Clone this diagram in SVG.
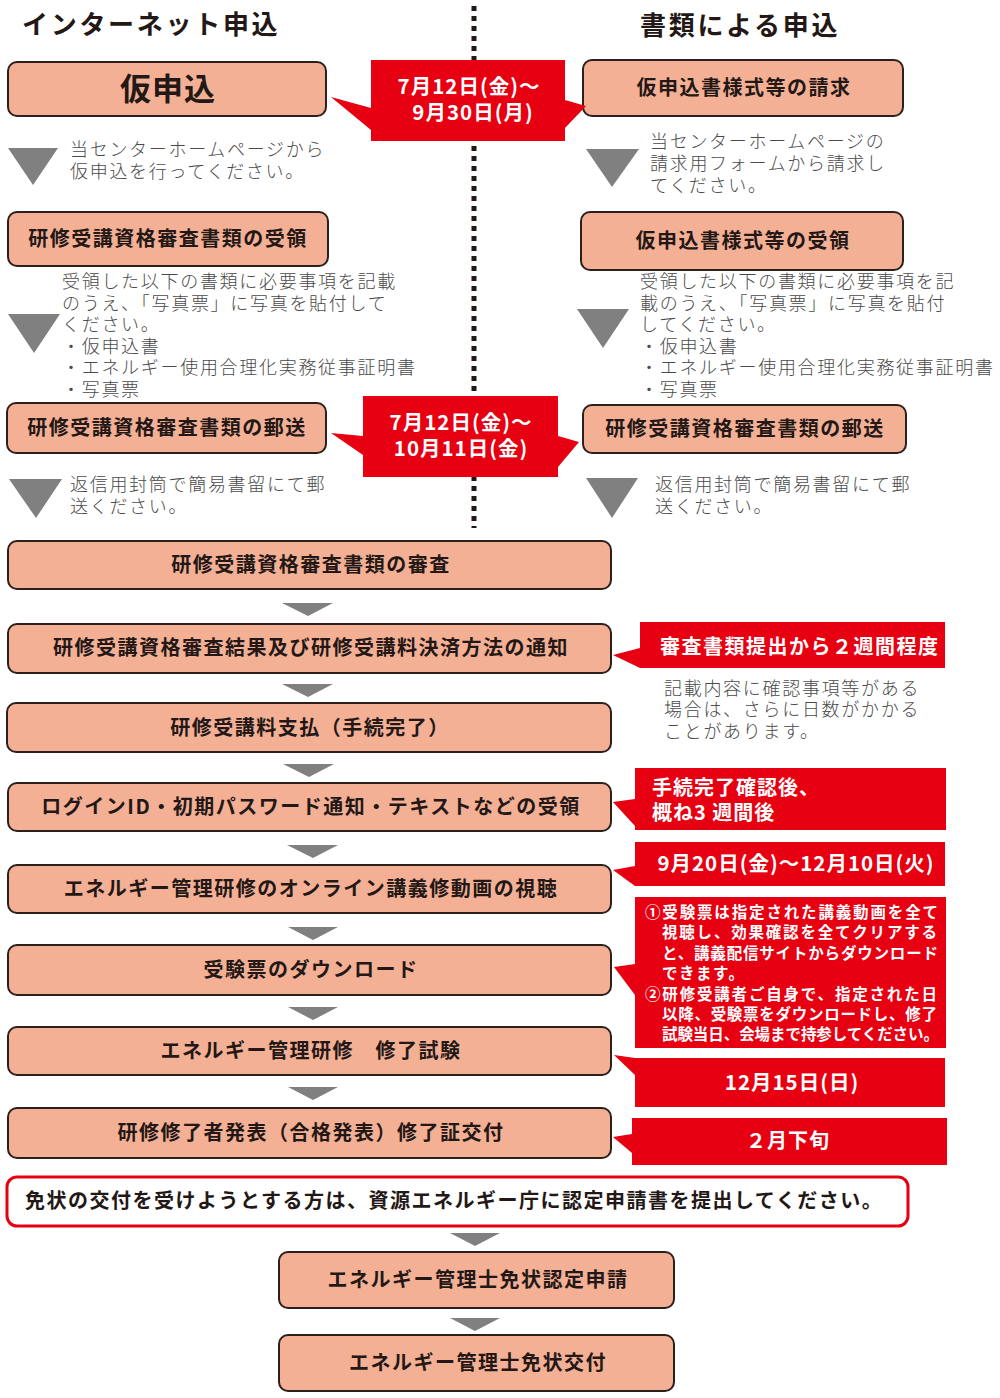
<svg xmlns="http://www.w3.org/2000/svg" width="1000" height="1398" viewBox="0 0 1000 1398">
<style>
.box{fill:#f4b095;stroke:#2b201c;stroke-width:2}
.wbox{fill:#ffffff;stroke:#e60012;stroke-width:3}
.red{fill:#e60012}
.tri{fill:#808080}
.bt{font-family:"Noto Sans CJK JP","Noto Sans CJK SC",sans-serif;font-weight:700;font-size:20px;fill:#231815;letter-spacing:1.5px;text-anchor:middle}
.title{font-family:"Noto Sans CJK JP","Noto Sans CJK SC",sans-serif;font-weight:700;font-size:26px;fill:#231815;letter-spacing:2.7px}
.body{font-family:"Noto Sans CJK JP","Noto Sans CJK SC",sans-serif;font-weight:300;font-size:18px;fill:#4a4a4a;letter-spacing:1.7px}
.rt{font-family:"Noto Sans CJK JP","Noto Sans CJK SC",sans-serif;font-weight:700;font-size:20px;fill:#ffffff}
.rd{font-family:"Noto Sans CJK JP","Noto Sans CJK SC",sans-serif;font-weight:700;font-size:20.5px;fill:#ffffff;letter-spacing:1px;text-anchor:middle}
.rs{font-family:"Noto Sans CJK JP","Noto Sans CJK SC",sans-serif;font-weight:700;font-size:15.5px;fill:#ffffff}
</style>

<g id="titles">
<text class="title" x="22" y="34">インターネット申込</text>
<text class="title" x="640" y="35">書類による申込</text>
</g>

<g id="connectors">
<line x1="474" y1="6" x2="474" y2="528" stroke="#231815" stroke-width="5" stroke-dasharray="5 5"/>
<polygon class="tri" points="8,148 58,148 33,185"/>
<polygon class="tri" points="586,149 639,149 612,187"/>
<polygon class="tri" points="8,314 60,314 34,353"/>
<polygon class="tri" points="577,309 629,309 603,348"/>
<polygon class="tri" points="9,479 62,479 36,518"/>
<polygon class="tri" points="586,478 638,478 612,518"/>
<polygon class="tri" points="282,603 333,603 308,616"/>
<polygon class="tri" points="282,684 333,684 308,697"/>
<polygon class="tri" points="283,764 334,764 309,777"/>
<polygon class="tri" points="287,845 338,845 313,858"/>
<polygon class="tri" points="288,927 338,927 313,940"/>
<polygon class="tri" points="288,1007 338,1007 313,1020"/>
<polygon class="tri" points="288,1087 338,1087 313,1100"/>
<polygon class="tri" points="450,1233 500,1233 475,1246"/>
<polygon class="tri" points="450,1318 500,1318 475,1331"/>
</g>

<g id="n-kari">
<rect class="box" x="8" y="62" width="318" height="54" rx="9"/>
<text class="bt" x="168" y="100" style="font-size:31px;letter-spacing:1px">仮申込</text>
</g>
<g id="n-seikyu">
<rect class="box" x="583" y="60" width="320" height="56" rx="9"/>
<text class="bt" x="744" y="95">仮申込書様式等の請求</text>
</g>
<g id="c1">
<path class="red" d="M371,60 H565 V100 L586,106 L565,128 V141 H371 V130 L331,97 L371,108 Z"/>
<text class="rd"><tspan x="469" y="94">7月12日(金)～</tspan><tspan x="473" y="120">9月30日(月)</tspan></text>
</g>

<g id="t1">
<text class="body"><tspan x="70" y="156">当センターホームページから</tspan><tspan x="70" y="178">仮申込を行ってください。</tspan></text>
</g>
<g id="t2">
<text class="body"><tspan x="650" y="148">当センターホームページの</tspan><tspan x="650" y="170">請求用フォームから請求し</tspan><tspan x="650" y="192">てください。</tspan></text>
</g>

<g id="n-juryo-l">
<rect class="box" x="8" y="212" width="320" height="54" rx="9"/>
<text class="bt" x="168" y="246">研修受講資格審査書類の受領</text>
</g>
<g id="n-juryo-r">
<rect class="box" x="581" y="212" width="322" height="58" rx="9"/>
<text class="bt" x="743" y="248">仮申込書様式等の受領</text>
</g>

<g id="t3">
<text class="body"><tspan x="62" y="288">受領した以下の書類に必要事項を記載</tspan><tspan x="62" y="310">のうえ、「写真票」に写真を貼付して</tspan><tspan x="62" y="331">ください。</tspan><tspan x="62" y="353">・仮申込書</tspan><tspan x="62" y="374">・エネルギー使用合理化実務従事証明書</tspan><tspan x="62" y="396">・写真票</tspan></text>
</g>
<g id="t4">
<text class="body"><tspan x="640" y="288">受領した以下の書類に必要事項を記</tspan><tspan x="640" y="310">載のうえ、「写真票」に写真を貼付</tspan><tspan x="640" y="331">してください。</tspan><tspan x="640" y="353">・仮申込書</tspan><tspan x="640" y="374">・エネルギー使用合理化実務従事証明書</tspan><tspan x="640" y="396">・写真票</tspan></text>
</g>

<g id="n-yuso-l">
<rect class="box" x="7" y="403" width="319" height="50" rx="9"/>
<text class="bt" x="167" y="435">研修受講資格審査書類の郵送</text>
</g>
<g id="n-yuso-r">
<rect class="box" x="583" y="405" width="323" height="48" rx="9"/>
<text class="bt" x="745" y="436">研修受講資格審査書類の郵送</text>
</g>
<g id="c2">
<path class="red" d="M363,396 H558 V436 L579,442 L558,467 V477 H363 V455 L331,433 L363,436 Z"/>
<text class="rd"><tspan x="461" y="430">7月12日(金)～</tspan><tspan x="461" y="456">10月11日(金)</tspan></text>
</g>

<g id="t5">
<text class="body"><tspan x="70" y="491">返信用封筒で簡易書留にて郵</tspan><tspan x="70" y="513">送ください。</tspan></text>
</g>
<g id="t6">
<text class="body"><tspan x="655" y="491">返信用封筒で簡易書留にて郵</tspan><tspan x="655" y="513">送ください。</tspan></text>
</g>

<g id="n-shinsa">
<rect class="box" x="8" y="541" width="603" height="48" rx="9"/>
<text class="bt" x="311" y="572">研修受講資格審査書類の審査</text>
</g>
<g id="n-tsuchi">
<rect class="box" x="8" y="624" width="603" height="49" rx="9"/>
<text class="bt" x="311" y="655">研修受講資格審査結果及び研修受講料決済方法の通知</text>
</g>
<g id="c3">
<path class="red" d="M640,622 H945 V668 H640 L613,655 L640,648 Z"/>
<text class="rt" x="660" y="654" style="letter-spacing:1.5px">審査書類提出から２週間程度</text>
</g>
<g id="t7">
<text class="body"><tspan x="664" y="695">記載内容に確認事項等がある</tspan><tspan x="664" y="716">場合は、さらに日数がかかる</tspan><tspan x="664" y="738">ことがあります。</tspan></text>
</g>

<g id="n-shiharai">
<rect class="box" x="7" y="703" width="604" height="49" rx="9"/>
<text class="bt" x="310" y="735">研修受講料支払（手続完了）</text>
</g>
<g id="n-login">
<rect class="box" x="8" y="783" width="603" height="48" rx="9"/>
<text class="bt" x="311" y="814">ログインID・初期パスワード通知・テキストなどの受領</text>
</g>
<g id="c4">
<path class="red" d="M635,768 H946 V830 H635 V826 L613,802 L635,799 Z"/>
<text class="rt" style="letter-spacing:1px"><tspan x="652" y="795">手続完了確認後、</tspan><tspan x="652" y="820">概ね3 週間後</tspan></text>
</g>

<g id="n-shicho">
<rect class="box" x="8" y="865" width="603" height="48" rx="9"/>
<text class="bt" x="311" y="896">エネルギー管理研修のオンライン講義修動画の視聴</text>
</g>
<g id="c5">
<path class="red" d="M635,842 H945 V886 H635 L613,870 L635,866 Z"/>
<text class="rd" x="796" y="871">9月20日(金)～12月10日(火)</text>
</g>

<g id="n-dl">
<rect class="box" x="8" y="945" width="603" height="50" rx="9"/>
<text class="bt" x="311" y="977">受験票のダウンロード</text>
</g>
<g id="c6">
<path class="red" d="M635,897 H946 V1048 H635 V995 L614,967 L635,964 Z"/>
<text class="rs"><tspan x="645" y="918" textLength="293" lengthAdjust="spacing">①受験票は指定された講義動画を全て</tspan><tspan x="662" y="938" textLength="275" lengthAdjust="spacing">視聴し、効果確認を全てクリアする</tspan><tspan x="662" y="959" textLength="276" lengthAdjust="spacing">と、講義配信サイトからダウンロード</tspan><tspan x="662" y="979" style="letter-spacing:1.5px">できます。</tspan><tspan x="645" y="1000" textLength="292" lengthAdjust="spacing">②研修受講者ご自身で、指定された日</tspan><tspan x="662" y="1020" textLength="275" lengthAdjust="spacing">以降、受験票をダウンロードし、修了</tspan><tspan x="662" y="1040" textLength="277" lengthAdjust="spacing">試験当日、会場まで持参してください。</tspan></text>
</g>

<g id="n-shiken">
<rect class="box" x="8" y="1027" width="603" height="48" rx="9"/>
<text class="bt" x="311" y="1058">エネルギー管理研修　修了試験</text>
</g>
<g id="c7">
<path class="red" d="M635,1058 H945 V1107 H635 V1075 L614,1055 Z"/>
<text class="rd" x="792" y="1090">12月15日(日)</text>
</g>

<g id="n-happyo">
<rect class="box" x="8" y="1108" width="603" height="50" rx="9"/>
<text class="bt" x="311" y="1140">研修修了者発表（合格発表）修了証交付</text>
</g>
<g id="c8">
<path class="red" d="M632,1118 H947 V1165 H632 V1153 L613,1137 L632,1134 Z"/>
<text class="rt" x="788" y="1148" text-anchor="middle" style="letter-spacing:1px">２月下旬</text>
</g>

<g id="n-notice">
<rect class="wbox" x="7" y="1177" width="901" height="49" rx="10"/>
<text class="bt" x="25" y="1208" style="text-anchor:start">免状の交付を受けようとする方は、資源エネルギー庁に認定申請書を提出してください。</text>
</g>
<g id="n-shinsei">
<rect class="box" x="279" y="1252" width="395" height="56" rx="9"/>
<text class="bt" x="478" y="1287">エネルギー管理士免状認定申請</text>
</g>
<g id="n-kofu">
<rect class="box" x="279" y="1335" width="395" height="56" rx="9"/>
<text class="bt" x="478" y="1370">エネルギー管理士免状交付</text>
</g>
</svg>
